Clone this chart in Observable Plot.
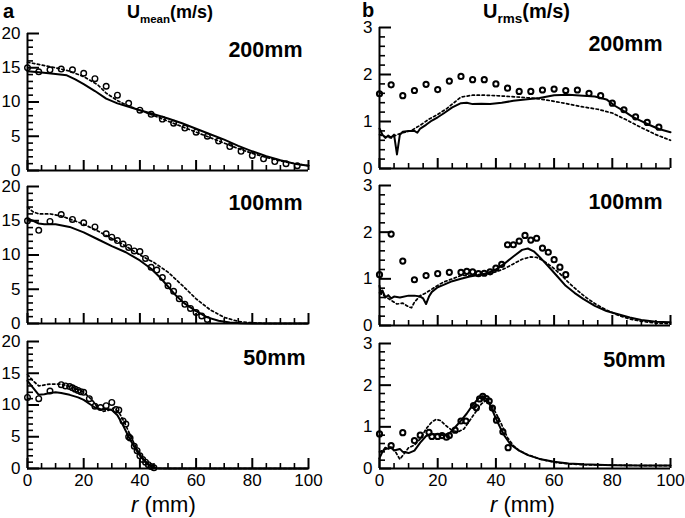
<!DOCTYPE html>
<html><head><meta charset="utf-8">
<script src="https://cdn.jsdelivr.net/npm/d3@7"></script>
<script src="https://cdn.jsdelivr.net/npm/@observablehq/plot@0.6"></script>
<style>
body{margin:0;background:#fff;}
#fig{position:relative;width:685px;height:518px;font-family:"Liberation Sans",Arial,sans-serif;overflow:hidden;background:#fff;}
#plots{position:absolute;left:0;top:0;width:685px;height:518px;}
#plots svg{position:absolute;}
.t{position:absolute;white-space:nowrap;line-height:1;color:#000;}
</style></head><body><div id="fig">
<div id="plots"></div>
<div class="t" style="left:3px;top:1px;font-size:20px;font-weight:bold;">a</div>
<div class="t" style="left:127px;top:3px;font-size:18px;font-weight:bold;">U<span style="font-size:11.5px;vertical-align:-5px;">mean</span>(m/s)</div>
<div class="t" style="left:362px;top:0px;font-size:20px;font-weight:bold;">b</div>
<div class="t" style="left:483px;top:1px;font-size:20px;font-weight:bold;">U<span style="font-size:13.5px;vertical-align:-5px;">rms</span>(m/s)</div>
<div class="t" style="left:131px;top:494px;font-size:22px;"><i>r</i> (mm)</div>
<div class="t" style="left:490px;top:494px;font-size:22px;"><i>r</i> (mm)</div>
</div>
<script>
// ---------- U_mean (m/s) ----------
const mean200Exp = [[0,15.0],[4,14.4],[8,14.7],[12,14.8],[16,14.7],[20,14.2],[24,13.4],[28,12.3],[32,11.0],[36,9.8],[40,8.8],[44,8.2],[48,7.5],[52,6.9],[56,6.2],[60,5.6],[64,5.0],[68,4.3],[72,3.5],[76,2.8],[80,2.2],[84,1.7],[88,1.3],[92,1.0],[96,0.7]];
const mean200Solid = [[0,14.5],[5,14.3],[10,14.1],[14,13.9],[17,13.3],[20,12.6],[24,11.6],[28,10.5],[32,9.8],[36,9.3],[40,8.8],[45,8.2],[50,7.6],[55,6.9],[60,6.1],[65,5.3],[70,4.5],[75,3.6],[80,2.8],[85,2.1],[90,1.5],[95,1.0],[100,0.7]];
const mean200Dotted = [[0,15.8],[5,15.4],[10,15.0],[15,14.5],[20,13.7],[25,12.5],[28,11.3],[32,10.2],[36,9.4],[40,8.8],[45,8.0],[50,7.2],[55,6.4],[60,5.6],[65,4.8],[70,4.0],[75,3.2],[80,2.5],[85,1.9],[90,1.4],[95,1.0],[100,0.7]];

const mean100Exp = [[0,15.0],[4,13.6],[8,14.9],[12,15.9],[16,15.2],[20,14.7],[24,14.1],[28,13.1],[30,12.6],[32,12.1],[34,11.6],[36,11.1],[38,10.6],[40,10.5],[42,9.5],[44,8.2],[46,7.8],[48,6.7],[50,5.5],[52,4.7],[54,3.6],[56,2.8],[58,2.2],[60,1.6],[62,1.1],[64,0.6]];
const mean100Solid = [[0,15.3],[2,15.0],[4,14.6],[6,14.5],[10,14.5],[15,14.1],[20,13.3],[25,12.3],[30,11.3],[35,10.4],[40,9.2],[44,8.0],[47,6.8],[50,5.4],[53,4.0],[56,2.9],[60,1.8],[64,0.9],[68,0.4],[72,0.15],[76,0.05],[80,0],[100,0]];
const mean100Dotted = [[0,17.0],[2,16.3],[4,16.0],[8,16.0],[12,15.7],[16,15.1],[20,14.5],[25,13.5],[30,12.4],[35,11.3],[40,10.0],[45,8.9],[50,7.5],[55,5.6],[60,3.6],[65,2.0],[70,0.9],[75,0.3],[80,0.1],[85,0],[100,0]];

const mean50Exp = [[0,11.2],[4,11.0],[8,12.2],[12,13.2],[13.5,13.0],[15,12.9],[16,12.7],[17,12.5],[18,12.3],[19,12.1],[20,12.0],[22,11.0],[24,9.8],[26,9.6],[28,9.9],[30,10.4],[31.5,9.3],[32.5,9.2],[34,7.5],[35,7.0],[36,5.0],[36.5,4.8],[38,3.5],[39,2.8],[40,2.0],[41,1.4],[42,1.0],[43,0.6],[44,0.3],[45,0.1]];
const mean50Solid = [[0,13.8],[2,12.7],[4,11.6],[6,11.7],[8,11.9],[10,12.0],[12,11.9],[15,11.6],[18,11.2],[20,10.8],[22,10.2],[24,9.6],[26,9.3],[28,9.4],[30,9.2],[32,8.4],[34,6.8],[36,5.0],[38,3.4],[40,2.0],[42,1.0],[44,0.3],[46,0.05],[50,0],[100,0]];
const mean50Dotted = [[0,14.8],[2,13.8],[4,13.0],[8,13.3],[12,13.3],[16,12.8],[20,12.0],[23,10.8],[25,9.6],[27,9.0],[29,9.2],[31,9.6],[33,8.5],[35,6.8],[37,4.8],[39,3.0],[41,1.6],[43,0.7],[45,0.2],[47,0],[100,0]];

// ---------- U_rms (m/s) ----------
const rms200Exp = [[0,1.59],[4,1.78],[8,1.55],[12,1.66],[16,1.79],[20,1.68],[24,1.86],[28,1.96],[32,1.89],[36,1.89],[40,1.80],[44,1.71],[48,1.64],[52,1.64],[56,1.67],[60,1.69],[64,1.66],[68,1.67],[72,1.60],[76,1.55],[80,1.39],[84,1.25],[88,1.10],[92,0.98],[96,0.88]];
const rms200Solid = [[0,0.85],[1,0.72],[2,0.65],[3,0.70],[4,0.66],[5,0.72],[6,0.30],[7,0.72],[8,0.78],[10,0.80],[12,0.80],[13,0.76],[14,0.85],[16,0.93],[18,1.02],[20,1.09],[22,1.17],[25,1.30],[28,1.39],[30,1.40],[32,1.37],[35,1.38],[38,1.37],[42,1.40],[46,1.44],[50,1.47],[55,1.50],[60,1.56],[65,1.57],[70,1.55],[74,1.53],[78,1.47],[81,1.33],[84,1.22],[87,1.10],[90,1.01],[93,0.92],[96,0.84],[100,0.77]];
const rms200Dotted = [[0,0.72],[2,0.68],[4,0.65],[6,0.72],[8,0.76],[11,0.81],[14,0.92],[17,1.05],[20,1.15],[23,1.27],[26,1.42],[28,1.52],[32,1.56],[36,1.56],[40,1.55],[45,1.53],[50,1.51],[55,1.48],[60,1.43],[65,1.37],[70,1.31],[75,1.26],[80,1.18],[85,1.03],[90,0.87],[95,0.72],[100,0.60]];

const rms100Exp = [[0,1.09],[4,1.96],[8,1.38],[12,0.98],[16,1.07],[20,1.11],[24,1.14],[28,1.14],[30,1.16],[32,1.15],[34,1.11],[36,1.12],[38,1.15],[40,1.23],[42,1.31],[44,1.73],[46,1.73],[48,1.81],[50,1.93],[52,1.83],[54,1.87],[56,1.66],[58,1.57],[60,1.41],[62,1.25],[64,1.09]];
const rms100Solid = [[0,0.85],[0.5,0.68],[1,0.75],[2,0.60],[3,0.65],[4,0.58],[5,0.62],[7,0.60],[10,0.64],[12,0.64],[14,0.62],[15,0.58],[16,0.46],[17,0.62],[18,0.72],[20,0.82],[22,0.87],[25,0.95],[28,1.0],[31,1.05],[34,1.08],[37,1.12],[40,1.2],[43,1.33],[46,1.48],[49,1.62],[51,1.65],[53,1.59],[55,1.47],[58,1.27],[61,1.06],[64,0.85],[67,0.70],[70,0.57],[74,0.42],[78,0.31],[82,0.24],[86,0.17],[90,0.12],[95,0.08],[100,0.07]];
const rms100Dotted = [[0,0.70],[2,0.62],[4,0.54],[6,0.46],[8,0.48],[10,0.40],[11,0.38],[12,0.50],[14,0.64],[16,0.70],[18,0.78],[20,0.86],[22,0.93],[25,1.0],[28,1.07],[32,1.08],[36,1.1],[40,1.15],[43,1.22],[46,1.32],[49,1.42],[52,1.47],[54,1.46],[56,1.40],[59,1.27],[62,1.11],[65,0.92],[68,0.75],[71,0.60],[74,0.47],[78,0.33],[82,0.22],[86,0.14],[90,0.09],[95,0.05],[100,0.04]];

const rms50Exp = [[0,0.83],[4,0.55],[8,0.86],[12,0.67],[14,0.80],[17,0.87],[18,0.77],[20,0.77],[21.5,0.79],[23,0.75],[24,0.79],[26,0.92],[28,1.14],[29.7,1.14],[32.3,1.51],[33.3,1.46],[34.4,1.67],[35.5,1.73],[36.7,1.68],[37.7,1.62],[38.8,1.45],[40.2,1.16],[42.4,0.88],[44.2,0.50]];
const rms50Solid = [[0,0.25],[1,0.40],[2,0.50],[3,0.47],[4,0.50],[5,0.43],[6,0.45],[7,0.47],[8,0.40],[10,0.37],[12,0.43],[14,0.62],[16,0.78],[18,0.82],[20,0.82],[22,0.80],[24,0.84],[26,0.99],[28,1.15],[30,1.32],[32,1.52],[34,1.68],[35.5,1.74],[37,1.65],[38.5,1.45],[40,1.20],[41.5,0.98],[43,0.78],[45,0.58],[48,0.43],[51,0.32],[55,0.23],[60,0.16],[65,0.12],[70,0.10],[80,0.08],[90,0.07],[100,0.07]];
const rms50Dotted = [[0,0.40],[2,0.46],[4,0.52],[5.5,0.40],[7,0.22],[8.5,0.36],[10,0.50],[12,0.56],[14,0.71],[16,0.95],[18,1.12],[19.5,1.18],[21,1.15],[23,1.02],[25,0.91],[27,0.88],[29,0.95],[31,1.15],[33,1.35],[35,1.55],[36.5,1.63],[38,1.57],[40,1.33],[42,1.05],[44,0.74],[46,0.55],[48,0.43],[51,0.33],[55,0.23],[60,0.15],[65,0.11],[70,0.09],[80,0.08],[90,0.07],[100,0.07]];

// ---------- axes ----------
const xTickLabels = [0, 20, 40, 60, 80, 100];
const xMinorTicks = [5,10,15,25,30,35,45,50,55,65,70,75,85,90,95];
const meanTickLabels = [0, 5, 10, 15, 20];
const meanMinorTicks = [1,2,3,4,6,7,8,9,11,12,13,14,16,17,18,19];
const rmsTickLabels = [0, 1, 2, 3];
const rmsMinorTicks = [0.2,0.4,0.6,0.8,1.2,1.4,1.6,1.8,2.2,2.4,2.6,2.8];
const panelLabels = ["200mm", "100mm", "50mm"];

const host = document.getElementById("plots");
const X = d => d[0], Y = d => d[1];

function panel(o) {
  const innerW = o.width - o.ml - o.mr;
  const innerH = o.height - o.mt - o.mb;
  // pixel tick lengths expressed in each scale's data units
  const ky = (o.ydom[1] - o.ydom[0]) / innerH;
  const kx = 100 / innerW;
  const y0 = o.ydom[0];
  const xMaj = [...xTickLabels], xMin = [...xMinorTicks];
  const yMaj = [...o.yTicks], yMin = [...o.yMinor];
  const marks = [
    Plot.line(o.dotted, {x: X, y: Y, stroke: "black", strokeWidth: 1.7, strokeDasharray: "2.4,2.6"}),
    Plot.line(o.solid, {x: X, y: Y, stroke: "black", strokeWidth: 2}),
    Plot.dot(o.exp, {x: X, y: Y, r: o.r, stroke: "black", strokeWidth: o.sw, fill: "none"}),
    Plot.ruleY([y0], {stroke: "black", strokeWidth: 2}),
    Plot.ruleX([0], {stroke: "black", strokeWidth: 2}),
    Plot.ruleX(xMaj, {x: d => d, y1: y0, y2: y0 + 10 * ky, stroke: "black", strokeWidth: 2}),
    Plot.ruleX(xMin, {x: d => d, y1: y0, y2: y0 + 5 * ky, stroke: "black", strokeWidth: 1.6}),
    Plot.ruleY(yMaj, {y: d => d, x1: 0, x2: 12 * kx, stroke: "black", strokeWidth: 2}),
    Plot.ruleY(yMin, {y: d => d, x1: 0, x2: 6 * kx, stroke: "black", strokeWidth: 1.6}),
    Plot.axisY({ticks: yMaj, tickSize: 0, tickPadding: 7, fontSize: 17, label: null, tickFormat: d => String(d)}),
    Plot.text([o.label], {text: d => d, frameAnchor: "top-right", textAnchor: "end", lineAnchor: "middle", dx: o.ldx, dy: 17, fontWeight: "bold", fontSize: 21.5})
  ];
  if (o.xLabels) marks.push(Plot.axisX({ticks: xMaj, tickSize: 0, tickPadding: 5, fontSize: 17, label: null, tickFormat: d => String(d)}));
  const svg = Plot.plot({
    width: o.width, height: o.height,
    marginTop: o.mt, marginBottom: o.mb, marginLeft: o.ml, marginRight: o.mr,
    x: {domain: [0, 100], axis: null},
    y: {domain: o.ydom, axis: null},
    style: {background: "transparent", fontFamily: "'Liberation Sans', Arial, sans-serif", fontSize: "17px", color: "black", overflow: "visible"},
    marks
  });
  svg.style.left = o.left + "px";
  svg.style.top = o.top + "px";
  host.appendChild(svg);
}

const L = {left: 0, width: 320, ml: 27, mr: 12, ydom: [0, 20], yTicks: meanTickLabels, yMinor: meanMinorTicks, r: 2.8, sw: 1.4};
const R = {left: 340, width: 345, ml: 39, mr: 15, ydom: [0, 3], yTicks: rmsTickLabels, yMinor: rmsMinorTicks, r: 2.6, sw: 2};

panel({...L, top: 0, height: 180, mt: 33, mb: 10, exp: mean200Exp, solid: mean200Solid, dotted: mean200Dotted, label: panelLabels[0], ldx: -6});
panel({...L, top: 175, height: 155, mt: 11, mb: 7, exp: mean100Exp, solid: mean100Solid, dotted: mean100Dotted, label: panelLabels[1], ldx: -6});
panel({...L, top: 330, height: 188, mt: 11, mb: 50, exp: mean50Exp, solid: mean50Solid, dotted: mean50Dotted, label: panelLabels[2], ldx: -3, xLabels: true});
panel({...R, top: 0, height: 180, mt: 27, mb: 12, exp: rms200Exp, solid: rms200Solid, dotted: rms200Dotted, label: panelLabels[0], ldx: -8});
panel({...R, top: 175, height: 155, mt: 10, mb: 5, exp: rms100Exp, solid: rms100Solid, dotted: rms100Dotted, label: panelLabels[1], ldx: -8});
panel({...R, top: 330, height: 188, mt: 13, mb: 50, exp: rms50Exp, solid: rms50Solid, dotted: rms50Dotted, label: panelLabels[2], ldx: -5, xLabels: true});
</script>
</body></html>
